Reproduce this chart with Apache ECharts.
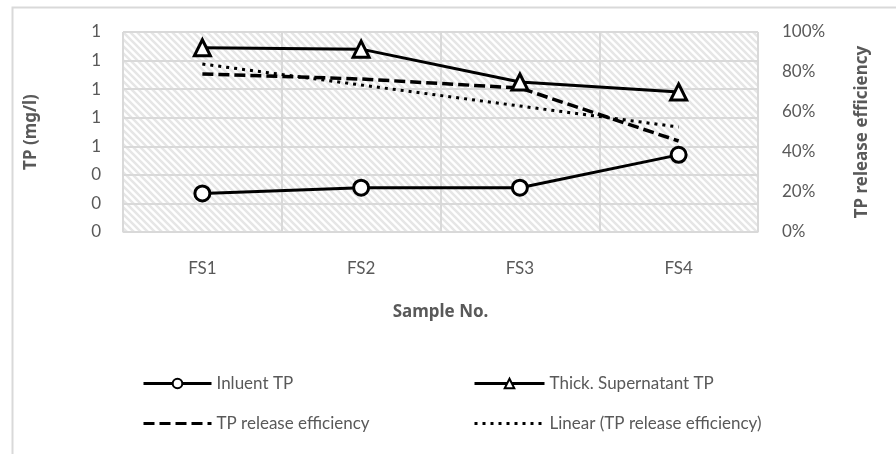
<!DOCTYPE html>
<html style="height: 100%">
<head>
<meta charset="utf-8">
<script src="https://cdn.jsdelivr.net/npm/echarts@6/dist/echarts.min.js"></script>
</head>
<body style="height: 100%; margin: 0; background: #fff">
<div id="container" style="width: 896px; height: 454px"></div>
<script type="text/javascript">
var samples = ['FS1', 'FS2', 'FS3', 'FS4'];
var influentTP = [0.27, 0.31, 0.31, 0.54];
var supernatantTP = [1.29, 1.28, 1.05, 0.98];
var releaseEff = [0.79, 0.765, 0.72, 0.455];
var linearEff = [0.84, 0.735, 0.63, 0.525];

// hatched plot background
function hatch() {
    var s = 7;
    var c = document.createElement('canvas');
    c.width = s; c.height = s;
    var g = c.getContext('2d');
    g.fillStyle = '#fff';
    g.fillRect(0, 0, s, s);
    g.strokeStyle = '#e6e6e6';
    g.lineWidth = 2.6;
    g.beginPath();
    g.moveTo(-2, -2); g.lineTo(s + 2, s + 2);
    g.moveTo(-2, s - 2); g.lineTo(2, s + 2);
    g.moveTo(s - 2, -2); g.lineTo(s + 2, 2);
    g.stroke();
    return c;
}

var font = 'Lato, "Open Sans", sans-serif';
var boldFont = '"Noto Sans", "Open Sans", sans-serif';
var grey = '#595959';
var gridColor = '#d9d9d9';
var titleStyle = { fontSize: 17, fontWeight: 'bold', color: grey, fontFamily: boldFont };
var myChart = echarts.init(document.getElementById('container'));

myChart.setOption({
    animation: false,
    textStyle: { fontFamily: font },
    graphic: [{
        type: 'rect', left: 10, top: 5,
        shape: { width: 900, height: 460 },
        style: { fill: 'none', stroke: gridColor, lineWidth: 2 },
        z: -10
    }],
    grid: {
        left: 123, right: 138, top: 32, bottom: 222,
        show: true,
        backgroundColor: { image: hatch(), repeat: 'repeat' },
        borderWidth: 0
    },
    legend: [{
        left: 137, top: 370, orient: 'vertical', itemGap: 23,
        itemWidth: 68, itemHeight: 12,
        lineStyle: { width: 3 },
        textStyle: { fontSize: 17, color: grey, fontFamily: font },
        data: ['Inluent TP', { name: 'TP release efficiency', itemStyle: { opacity: 0 } }]
    }, {
        left: 468, top: 370, orient: 'vertical', itemGap: 23,
        itemWidth: 70, itemHeight: 12,
        lineStyle: { width: 3 },
        textStyle: { fontSize: 17, color: grey, fontFamily: font },
        data: ['Thick. Supernatant TP', { name: 'Linear (TP release efficiency)', itemStyle: { opacity: 0 } }]
    }],
    xAxis: {
        type: 'category',
        data: samples,
        boundaryGap: true,
        name: 'Sample No.',
        nameLocation: 'middle',
        nameGap: 72,
        nameTextStyle: titleStyle,
        axisLine: { lineStyle: { color: gridColor, width: 1.5 } },
        axisTick: { show: false },
        axisLabel: { margin: 28, fontSize: 17, color: grey },
        splitLine: { show: true, interval: 0, lineStyle: { color: gridColor, width: 2 } }
    },
    yAxis: [{
        type: 'value', min: 0, max: 1.4, interval: 0.2,
        name: 'TP (mg/l)',
        nameLocation: 'middle',
        nameGap: 83,
        nameTextStyle: titleStyle,
        axisLine: { show: false },
        axisTick: { show: false },
        axisLabel: {
            margin: 22, fontSize: 17, color: grey,
            formatter: function (v) { return v.toFixed(0); }
        },
        splitLine: { lineStyle: { color: gridColor, width: 2 } }
    }, {
        type: 'value', min: 0, max: 1, interval: 0.2,
        name: 'TP release efficiency',
        nameLocation: 'middle',
        nameGap: 96,
        nameRotate: 90,
        nameTextStyle: titleStyle,
        axisLine: { show: false },
        axisTick: { show: false },
        axisLabel: {
            margin: 24, fontSize: 17, color: grey,
            formatter: function (v) { return Math.round(v * 100) + '%'; }
        },
        splitLine: { show: false }
    }],
    series: [{
        name: 'TP release efficiency',
        type: 'line', yAxisIndex: 1,
        data: releaseEff,
        symbol: 'none',
        lineStyle: { color: '#000', width: 3.5, type: [11, 5] },
        itemStyle: { color: '#000' },
        z: 3
    }, {
        name: 'Linear (TP release efficiency)',
        type: 'line', yAxisIndex: 1,
        data: linearEff,
        symbol: 'none',
        lineStyle: { color: '#000', width: 3, type: [3, 5] },
        itemStyle: { color: '#000' },
        z: 3
    }, {
        name: 'Inluent TP',
        type: 'line',
        data: influentTP,
        symbol: 'circle', symbolSize: 15,
        lineStyle: { color: '#000', width: 3 },
        itemStyle: { color: '#fff', borderColor: '#000', borderWidth: 3 },
        z: 4
    }, {
        name: 'Thick. Supernatant TP',
        type: 'line',
        data: supernatantTP,
        symbol: 'triangle', symbolSize: 16,
        lineStyle: { color: '#000', width: 3 },
        itemStyle: { color: '#fff', borderColor: '#000', borderWidth: 3 },
        z: 4
    }]
});
</script>
</body>
</html>
